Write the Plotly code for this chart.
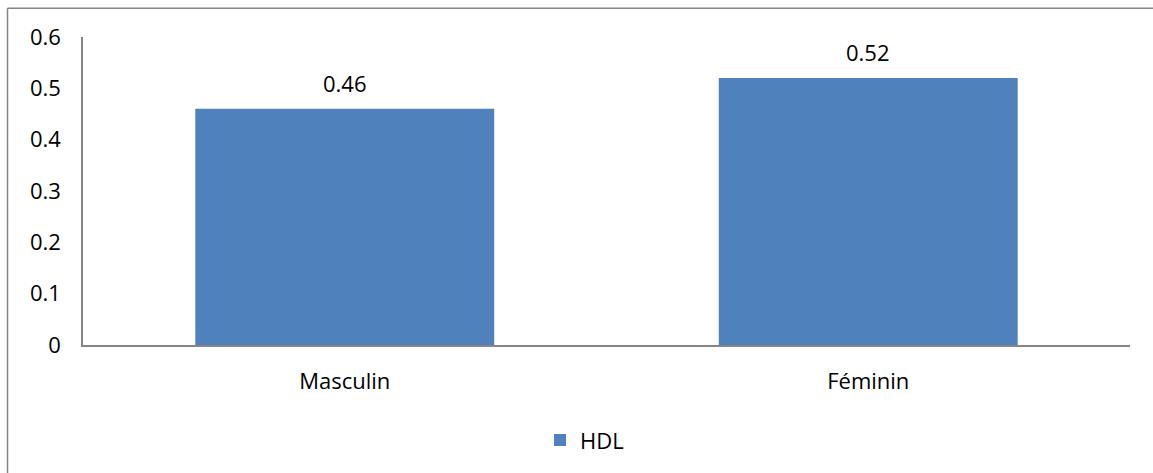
import plotly.graph_objects as go

# HDL values by sex
categories = ["Masculin", "Féminin"]
hdl_values = [0.46, 0.52]
value_labels = ["0.46", "0.52"]
y_ticks = [0, 0.1, 0.2, 0.3, 0.4, 0.5, 0.6]
y_tick_labels = ["0", "0.1", "0.2", "0.3", "0.4", "0.5", "0.6"]

W, H = 1153, 473
L, R, T, B = 83, 23, 37, 125
plot_w = W - L - R
plot_h = H - T - B

FONT = "Open Sans"
BAR_COLOR = "#4F81BD"
AXIS_COLOR = "#868686"


def px_x(p):
    return (p - L) / plot_w


def px_y(p):
    return (H - B - p) / plot_h


fig = go.Figure()
fig.add_trace(go.Bar(
    x=categories,
    y=hdl_values,
    name="HDL",
    marker=dict(color=BAR_COLOR, line=dict(width=0)),
    width=0.571,
))

for cat, val, lab in zip(categories, hdl_values, value_labels):
    fig.add_annotation(
        x=cat, y=val, text=lab, showarrow=False,
        yanchor="bottom", yshift=9,
        font=dict(family=FONT, size=22, color="#000000"),
    )

# outer chart frame (left and top edges)
fig.add_shape(type="line", xref="paper", yref="paper",
              x0=px_x(7.5), x1=px_x(W + 5), y0=px_y(8), y1=px_y(8),
              line=dict(color=AXIS_COLOR, width=1.5))
fig.add_shape(type="line", xref="paper", yref="paper",
              x0=px_x(7.5), x1=px_x(7.5), y0=px_y(8), y1=px_y(H + 5),
              line=dict(color=AXIS_COLOR, width=1.5))

fig.update_layout(
    width=W, height=H,
    margin=dict(l=L, r=R, t=T, b=B, pad=0),
    paper_bgcolor="white",
    plot_bgcolor="white",
    font=dict(family=FONT, size=22, color="#000000"),
    bargap=0.429,
    showlegend=True,
    legend=dict(
        orientation="h",
        x=px_x(540), y=px_y(423),
        xanchor="left", yanchor="top",
        font=dict(family=FONT, size=22),
        itemwidth=30,
    ),
    xaxis=dict(
        showline=True, linecolor=AXIS_COLOR, linewidth=2,
        showgrid=False, ticks="", zeroline=False,
        ticklabelstandoff=16,
        tickfont=dict(family=FONT, size=22),
    ),
    yaxis=dict(
        range=[0, 0.6],
        tickvals=y_ticks, ticktext=y_tick_labels,
        showline=True, linecolor=AXIS_COLOR, linewidth=1.5,
        showgrid=False, ticks="", zeroline=False,
        ticklabelstandoff=16,
        tickfont=dict(family=FONT, size=22),
    ),
)

fig.write_html("out.html")
